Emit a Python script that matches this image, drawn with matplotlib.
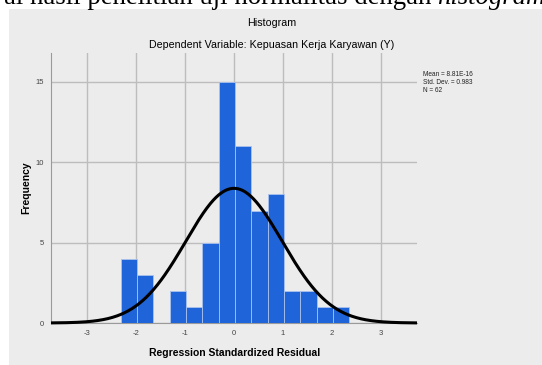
import numpy as np
import matplotlib
matplotlib.use("Agg")
import matplotlib.pyplot as plt
from matplotlib.patches import Rectangle

# ---- data ----
bin_start = -2.31
bin_width = 0.333
counts = [4, 3, 0, 2, 1, 5, 15, 11, 7, 8, 2, 2, 1, 1]
mean_val = 8.81e-16
std_val = 0.983
n_val = 62
x_ticks = [-3, -2, -1, 0, 1, 2, 3]
y_ticks = [0, 5, 10, 15]
title = "Histogram"
subtitle = "Dependent Variable: Kepuasan Kerja Karyawan (Y)"
xlabel = "Regression Standardized Residual"
ylabel = "Frequency"
stats_lines = ["Mean = 8.81E-16", "Std. Dev. = 0.983", "N = 62"]
caption_plain = "al hasil penelitian uji normalitas dengan "
caption_italic = "histogram"

W, H = 542, 365
fig = plt.figure(figsize=(W / 100, H / 100), dpi=100)
fig.patch.set_facecolor("white")

def fx(px):
    return px / W

def fy(py):
    return 1 - py / H

# gray panel
panel = Rectangle((fx(9), 0), 1 - fx(9), fy(9), transform=fig.transFigure,
                  facecolor="#ececec", edgecolor="none", zorder=-5)
fig.patches.append(panel)

# cut-off caption line at top (as in the reference)
fig.text(fx(4), fy(4), caption_plain, fontsize=19.3,
         family="Liberation Serif", ha="left", va="baseline")
fig.text(fx(437), fy(4), caption_italic, fontsize=19.3, style="italic",
         family="Liberation Serif", ha="left", va="baseline")

ax = fig.add_axes([fx(51), fy(323), fx(417) - fx(51), fy(53) - fy(323)])
ax.set_zorder(2)
ax.set_facecolor("#ececec")
ax.set_xlim(-3.73, 3.73)
ax.set_ylim(0, 16.8)

edges = bin_start + bin_width * np.arange(len(counts) + 1)
ax.bar(edges[:-1], counts, width=bin_width, align="edge", color="#1f64d8",
       edgecolor="#a9c3ee", linewidth=0.6, zorder=3)

xs = np.linspace(-3.73, 3.73, 400)
pdf = n_val * bin_width / (std_val * np.sqrt(2 * np.pi)) * np.exp(-0.5 * ((xs - mean_val) / std_val) ** 2)
ax.plot(xs, pdf, color="black", linewidth=2.2, zorder=4, solid_capstyle="butt",
        clip_on=False)

ax.set_xticks(x_ticks)
ax.set_yticks(y_ticks)
ax.set_xticklabels([str(t) for t in x_ticks])
ax.set_yticklabels([str(t) for t in y_ticks])
ax.grid(True, color="#bdbdbd", linewidth=1.0, zorder=1)
ax.set_axisbelow(True)
ax.tick_params(axis="both", length=0, labelsize=5.5, labelcolor="#444444", pad=5)
for s in ["top", "right"]:
    ax.spines[s].set_visible(False)
ax.spines["left"].set_color("#9a9a9a")
ax.spines["bottom"].set_color("#9a9a9a")
for lab in ax.get_xticklabels() + ax.get_yticklabels():
    lab.set_family("Liberation Sans")

fig.text(fx(272), fy(23), title, fontsize=7.7, family="Liberation Sans",
         ha="center", va="center")
fig.text(fx(272), fy(45), subtitle, fontsize=7.7, family="Liberation Sans",
         ha="center", va="center")
fig.text(fx(235), fy(353), xlabel, fontsize=7.5, fontweight="bold",
         family="Liberation Sans", ha="center", va="center")
fig.text(fx(26), fy(188), ylabel, fontsize=7.5, fontweight="bold",
         family="Liberation Sans", ha="center", va="center", rotation=90)

for i, line in enumerate(stats_lines):
    fig.text(fx(423), fy(74 + 8 * i), line, fontsize=4.7,
             family="Liberation Sans", ha="left", va="center", color="#222222")

fig.savefig("out.png", dpi=100, facecolor="white")
